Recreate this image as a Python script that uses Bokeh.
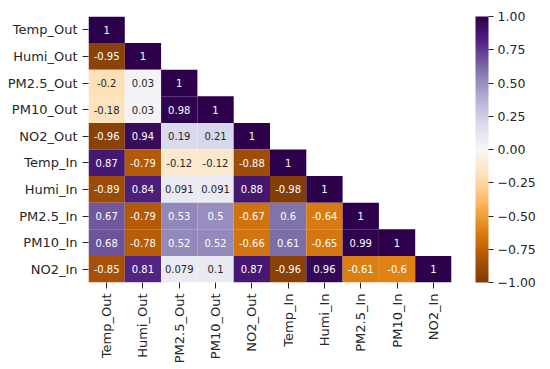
import math
import numpy as np
from bokeh.plotting import figure
from bokeh.models import (ColumnDataSource, LinearColorMapper, ColorBar, FixedTicker,
                          CustomJSTickFormatter, FactorRange)
from bokeh.embed import file_html
from bokeh.resources import INLINE
from bokeh.core.properties import value

names = ["Temp_Out", "Humi_Out", "PM2.5_Out", "PM10_Out", "NO2_Out",
         "Temp_In", "Humi_In", "PM2.5_In", "PM10_In", "NO2_In"]

r_temp_out = [1]
r_humi_out = [-0.95, 1]
r_pm25_out = [-0.2, 0.03, 1]
r_pm10_out = [-0.18, 0.03, 0.98, 1]
r_no2_out = [-0.96, 0.94, 0.19, 0.21, 1]
r_temp_in = [0.87, -0.79, -0.12, -0.12, -0.88, 1]
r_humi_in = [-0.89, 0.84, 0.091, 0.091, 0.88, -0.98, 1]
r_pm25_in = [0.67, -0.79, 0.53, 0.5, -0.67, 0.6, -0.64, 1]
r_pm10_in = [0.68, -0.78, 0.52, 0.52, -0.66, 0.61, -0.65, 0.99, 1]
r_no2_in = [-0.85, 0.81, 0.079, 0.1, 0.87, -0.96, 0.96, -0.61, -0.6, 1]
rows = [r_temp_out, r_humi_out, r_pm25_out, r_pm10_out, r_no2_out,
        r_temp_in, r_humi_in, r_pm25_in, r_pm10_in, r_no2_in]

cbar_ticks = [-1.0, -0.75, -0.5, -0.25, 0.0, 0.25, 0.5, 0.75, 1.0]

# PuOr (brown -> white -> purple) anchors, interpolated to 256 colours
anchors = ["#7f3b08", "#b35806", "#e08214", "#fdb863", "#fee0b6", "#f7f7f7",
           "#d8daeb", "#b2abd2", "#8073ac", "#542788", "#2d004b"]
def h2rgb(h):
    return np.array([int(h[i:i + 2], 16) for i in (1, 3, 5)], dtype=float)
arr = np.array([h2rgb(h) for h in anchors])
pos = np.linspace(0, 1, len(anchors))
t = np.linspace(0, 1, 256)
pal_rgb = np.stack([np.interp(t, pos, arr[:, k]) for k in range(3)], axis=1)
palette = ["#%02x%02x%02x" % tuple(int(round(c)) for c in rgb) for rgb in pal_rgb]

def lum(rgb):
    c = rgb / 255.0
    c = np.where(c <= 0.03928, c / 12.92, ((c + 0.055) / 1.055) ** 2.4)
    return 0.2126 * c[0] + 0.7152 * c[1] + 0.0722 * c[2]

xs, ys, vals, labels, tcolors = [], [], [], [], []
for i, row in enumerate(rows):
    for j, v in enumerate(row):
        xs.append(names[j])
        ys.append(names[i])
        vals.append(v)
        labels.append("{:.2g}".format(v))
        idx = int(round((v + 1) / 2 * 255))
        tcolors.append("#262626" if lum(pal_rgb[idx]) > 0.408 else "#ffffff")

src = ColumnDataSource(dict(x=xs, y=ys, v=vals, label=labels, tc=tcolors))
mapper = LinearColorMapper(palette=palette, low=-1, high=1)

p = figure(x_range=FactorRange(*names), y_range=FactorRange(*names[::-1]),
           frame_width=363, frame_height=266, min_border_left=88, min_border_top=16,
           min_border_right=5, min_border_bottom=5,
           output_backend="svg", toolbar_location=None)
p.outline_line_color = None
p.grid.visible = False
p.x_range.range_padding = 0
p.y_range.range_padding = 0

p.rect(x="x", y="y", width=1, height=1, source=src,
       fill_color={"field": "v", "transform": mapper}, line_color=None)
p.text(x="x", y="y", text="label", source=src, text_color="tc",
       text_align="center", text_baseline="middle", text_font_size="10px",
       text_font=value("DejaVu Sans"))

for ax in (p.xaxis[0], p.yaxis[0]):
    ax.axis_line_color = None
    ax.major_tick_in = 0
    ax.major_tick_out = 6
    ax.major_tick_line_color = "#262626"
    ax.major_label_text_font = "DejaVu Sans"
    ax.major_label_text_font_size = "13px"
    ax.major_label_text_color = "#262626"
    ax.major_label_standoff = 5
p.xaxis.major_label_orientation = math.pi / 2

cb = ColorBar(color_mapper=mapper, ticker=FixedTicker(ticks=cbar_ticks),
              formatter=CustomJSTickFormatter(code="return tick.toFixed(2).replace('-', '\u2212');"),
              width=13, height=266, padding=0, margin=0, location=(24, 0),
              major_tick_in=0, major_tick_out=5, major_tick_line_color="#262626",
              major_label_text_font="DejaVu Sans", major_label_text_font_size="12.5px",
              major_label_text_color="#262626", label_standoff=4,
              bar_line_color=None, border_line_color=None, background_fill_color=None)
p.add_layout(cb, "right")

open("out.html", "w").write(file_html(p, INLINE))
